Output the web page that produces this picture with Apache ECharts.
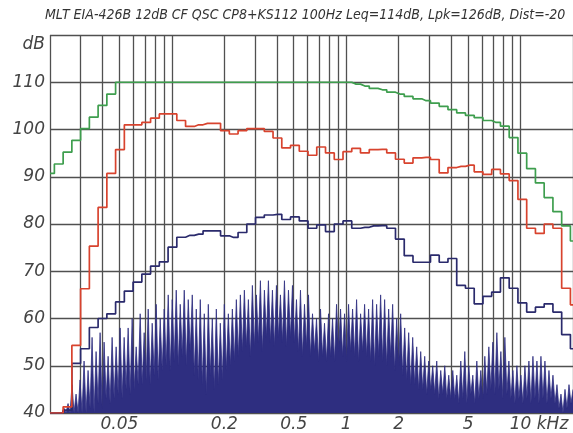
<!DOCTYPE html>
<html><head><meta charset="utf-8">
<script src="https://cdn.jsdelivr.net/npm/echarts@6/dist/echarts.min.js"></script>
<style>html,body{margin:0;padding:0;background:#fff}#c{width:573px;height:433px}</style>
</head><body><div id="c"></div>
<script>
const titleText = 'MLT EIA-426B 12dB CF QSC CP8+KS112 100Hz Leq=114dB, Lpk=126dB, Dist=-20';

// 1/6-octave band centres (kHz)
const bandFreqs = [0.02,0.02245,0.0252,0.02828,0.03175,0.03564,0.04,0.0449,0.0504,0.05657,
  0.0635,0.07127,0.08,0.0898,0.1008,0.1131,0.127,0.1425,0.16,0.1796,
  0.2016,0.2263,0.254,0.2851,0.32,0.3592,0.4032,0.4525,0.508,0.5702,
  0.64,0.7184,0.8063,0.9051,1.016,1.14,1.28,1.437,1.613,1.81,
  2.032,2.281,2.56,2.874,3.225,3.62,4.064,4.561,5.12,5.747,
  6.451,7.241,8.127,9.123,10.24,11.494,12.902,14.482,16.255,18.246,20.48];

const greenLevels = [90.7,92.7,95.2,97.7,100.2,102.6,105.1,107.5,110,110,
  110,110,110,110,110,110,110,110,110,110,
  110,110,110,110,110,110,110,110,110,110,
  110,110,110,110,110,109.6,109.2,108.7,108.4,107.9,
  107.5,107.0,106.5,106.1,105.6,104.9,104.2,103.5,103.0,102.5,
  101.9,101.5,100.7,98.3,95.0,91.7,88.7,85.6,82.6,79.6,76.4];

const redLevels = [40,40,41.3,54.3,66.3,75.3,83.5,90.7,95.75,101.0,
  101.0,101.5,102.4,103.3,103.3,101.9,100.65,101.0,101.3,101.3,
  99.75,99.05,99.75,100.2,100.2,99.6,98.2,96.1,96.65,95.4,
  94.55,96.3,95.05,93.65,95.3,96.0,95.05,95.75,95.8,95.05,
  93.7,92.9,94.0,94.1,93.65,90.8,91.95,92.2,92.45,91.05,
  90.5,91.55,90.6,89.2,85.2,79.1,78.0,80.0,79.1,66.4,62.9];

const blueLevels = [40,40,40.6,50.5,53.6,58.1,60.0,61.0,63.5,65.8,
  67.7,69.4,71.1,72.0,75.1,77.2,77.6,77.85,78.55,78.55,
  77.5,77.15,78.2,80.0,81.4,81.9,82.05,80.95,81.5,80.65,
  79.1,79.8,78.4,80.0,80.65,79.1,79.3,79.6,79.65,79.1,
  76.8,73.3,71.9,71.9,73.4,71.9,72.7,67.0,66.4,63.1,
  64.7,65.6,68.6,66.4,63.3,61.35,62.4,63.1,61.35,56.6,53.6];

// dense multitone spectrum (dB), evenly spaced on the log axis 20 Hz..20 kHz
const spectrumLevels = [
  40,40,40,40,40,40, 40,41,40,42,40, 46,40,44,40,47, 40,51,40,49,41,
  56,40,53,42,57, 41,55,43,52,42, 56,43,54,44,58, 43,56,45,58,44,
  60,45,54,46,61, 46,57,47,62,46, 59,48,63,47,60, 49,62,50,65,49,
  64,51,66,50,63, 52,66,50,64,53, 65,48,62,47,64, 46,61,44,63,48,
  60,45,62,46,59, 47,63,49,61,50, 62,51,64,52,65, 53,66,54,64,52,
  67,54,65,55,68, 53,66,56,68,55, 66,54,67,56,65, 55,68,54,66,56,
  67,55,64,53,66, 52,63,54,65,52, 61,53,60,51,62, 52,59,51,61,52,
  60,51,63,53,62, 52,61,51,63,53, 62,52,64,51,61, 53,63,52,62,51,
  64,50,63,52,65, 51,64,50,62,52, 63,49,60,50,61, 48,58,47,57,46,
  56,46,54,45,53, 45,52,44,51,45, 50,44,51,43,49, 44,50,43,48,43,
  49,43,48,42,51, 43,53,42,50,44, 48,42,51,43,49, 43,52,44,54,45,
  55,44,57,45,53, 43,56,44,51,43, 49,42,50,43,48, 42,50,43,51,42,
  52,43,51,42,52, 43,51,42,49,43, 48,42,46,41,44, 40,45,41,46,42,45];

const xGridValues = [0.02,0.03,0.04,0.05,0.06,0.07,0.08,0.09,0.1,
  0.2,0.3,0.4,0.5,0.6,0.7,0.8,0.9,1,2,3,4,5,6,7,8,9,10,20];
const xLabelValues = [0.05,0.2,0.5,1,2,5,10];
const xUnit = 'kHz';
const yUnit = 'dB';
const yMin = 40, yMax = 120, yStep = 10;

const xMin = 0.02, xMax = 20;
const n = spectrumLevels.length;
const spectrumData = spectrumLevels.map((v, i) => [xMin * Math.pow(xMax / xMin, i / (n - 1)), v]);
const pairs = arr => arr.map((v, i) => [bandFreqs[i], v]);

const labelFont = {fontFamily: 'DejaVu Sans', fontStyle: 'italic', fontSize: 17, color: '#444'};

const chart = echarts.init(document.getElementById('c'), null, {renderer: 'canvas'});
chart.setOption({
  animation: false,
  backgroundColor: '#fff',
  title: {
    text: titleText, left: 40, top: 3,
    textStyle: {fontFamily: 'DejaVu Sans Condensed', fontStyle: 'italic', fontWeight: 'normal', fontSize: 14, color: '#333'}
  },
  grid: {left: 50, right: 0, top: 35, bottom: 18, containLabel: false},
  xAxis: {
    type: 'log', min: xMin, max: xMax, logBase: 10,
    axisLine: {show: false},
    axisTick: {show: false, customValues: xGridValues},
    splitLine: {show: true, lineStyle: {color: '#505050', width: 1.3}},
    minorSplitLine: {show: false},
    axisLabel: Object.assign({
      customValues: xLabelValues, margin: 3, hideOverlap: false,
      formatter: v => (Math.abs(v - 10) < 1e-6 ? '{p|}10 ' + xUnit : String(+v.toPrecision(3))),
      rich: {p: {width: 37, fontSize: 17}}
    }, labelFont)
  },
  yAxis: {
    type: 'value', min: yMin, max: yMax, interval: yStep,
    axisLine: {show: false}, axisTick: {show: false},
    splitLine: {show: true, lineStyle: {color: '#505050', width: 1.3}},
    axisLabel: Object.assign({
      margin: 5,
      formatter: v => (v === yMax ? '{d|' + yUnit + '}' : String(v)),
      rich: {d: {padding: [20, 0, 0, 0], fontFamily: 'DejaVu Sans', fontStyle: 'italic', fontSize: 17, color: '#444'}}
    }, labelFont)
  },
  series: [
    {type: 'line', data: spectrumData, showSymbol: false, symbol: 'none',
     lineStyle: {color: '#2e2e80', width: 0.8}, areaStyle: {color: '#2e2e80', opacity: 1}, z: 1},
    {type: 'line', data: pairs(blueLevels), step: 'middle', showSymbol: false, symbol: 'none',
     lineStyle: {color: '#2a2a6c', width: 1.7}, z: 2},
    {type: 'line', data: pairs(redLevels), step: 'middle', showSymbol: false, symbol: 'none',
     lineStyle: {color: '#d8432e', width: 1.7}, z: 3},
    {type: 'line', data: pairs(greenLevels), step: 'middle', showSymbol: false, symbol: 'none',
     lineStyle: {color: '#3e9e4e', width: 1.7}, z: 4}
  ]
});
</script></body></html>
